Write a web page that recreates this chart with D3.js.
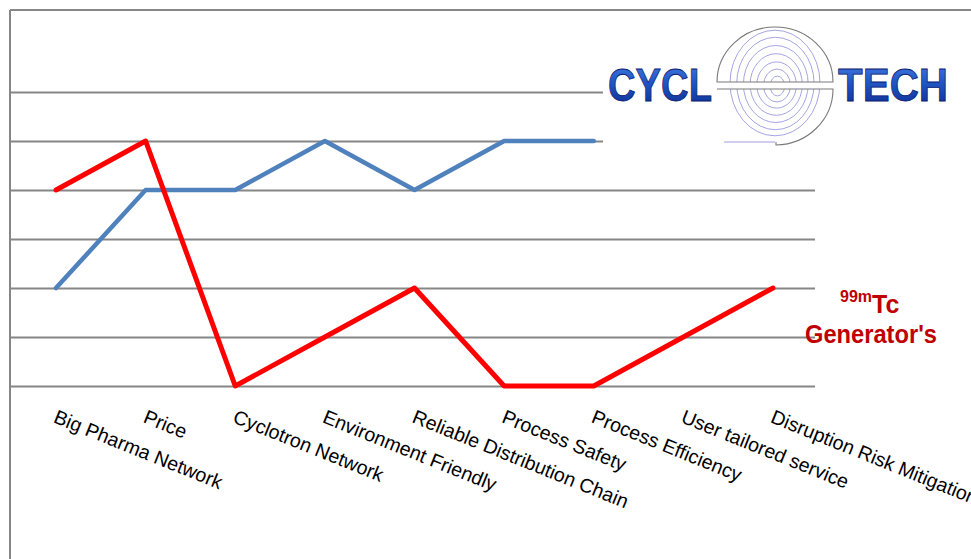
<!DOCTYPE html>
<html>
<head>
<meta charset="utf-8">
<script src="https://cdn.jsdelivr.net/npm/d3@7"></script>
<style>
html,body{margin:0;padding:0;background:#fff;}
svg{display:block;font-family:"Liberation Sans",Arial,sans-serif;}
</style>
</head>
<body>
<svg id="chart" width="971" height="559"></svg>
<script>
const categories = ["Big Pharma Network","Price","Cyclotron Network","Environment Friendly",
  "Reliable Distribution Chain","Process Safety","Process Efficiency","User tailored service",
  "Disruption Risk Mitigation"];
const cyclotechValues = [2,4,4,5,4,5,5];
const generatorValues = [4,5,0,1,2,0,0,1,2];
const gridValues = [0,1,2,3,4,5,6];

const svg = d3.select("#chart");
const x = d3.scalePoint().domain(categories).range([56,773]);
const y = d3.scaleLinear().domain([0,6]).range([386,92]);

// plot border (left + top)
svg.append("line").attr("x1",10).attr("x2",10).attr("y1",10).attr("y2",559)
  .attr("stroke","#868686").attr("stroke-width",2);
svg.append("line").attr("x1",10).attr("x2",971).attr("y1",10).attr("y2",10)
  .attr("stroke","#868686").attr("stroke-width",2);

// gridlines via axis
const grid = svg.append("g").attr("transform","translate(10,0)")
  .call(d3.axisLeft(y).tickValues(gridValues).tickSize(-805).tickFormat(""));
grid.select(".domain").remove();
grid.selectAll(".tick line").attr("stroke","#868686").attr("stroke-width",2);

// category labels
const xa = svg.append("g").attr("transform","translate(0,386)")
  .call(d3.axisBottom(x).tickSize(0).tickPadding(0));
xa.select(".domain").remove();
xa.selectAll(".tick text")
  .attr("font-family","'Liberation Sans',Arial,sans-serif")
  .attr("font-size",19.6).attr("fill","#000")
  .attr("text-anchor","start").attr("dy",0).attr("y",0)
  .attr("transform","translate(-4,36) rotate(22)");

// lines
const line = d3.line().x((d,i)=>x(categories[i])).y(d=>y(d));
svg.append("path").datum(cyclotechValues).attr("d",line)
  .attr("fill","none").attr("stroke","#4f81bd").attr("stroke-width",4.5)
  .attr("stroke-linejoin","round").attr("stroke-linecap","round");
svg.append("path").datum(generatorValues).attr("d",line)
  .attr("fill","none").attr("stroke","#ff0000").attr("stroke-width",5)
  .attr("stroke-linejoin","round").attr("stroke-linecap","round");

// logo
const logo = svg.append("g");
logo.append("rect").attr("x",603).attr("y",14).attr("width",360).attr("height",138).attr("fill","#fff");
const defs = svg.append("defs");
const grad = defs.append("linearGradient").attr("id","lg").attr("x1",0).attr("x2",0).attr("y1",0).attr("y2",1);
grad.append("stop").attr("offset","0%").attr("stop-color","#4a82e6");
grad.append("stop").attr("offset","45%").attr("stop-color","#2256c6");
grad.append("stop").attr("offset","100%").attr("stop-color","#0c2a8c");
["CYCL","TECH"].forEach((t,i)=>{
  logo.append("text").attr("x",i?838:608).attr("y",101).text(t)
    .attr("font-family","'Liberation Sans',Arial,sans-serif").attr("font-weight","bold")
    .attr("font-size",47).attr("textLength",i?110:104).attr("lengthAdjust","spacingAndGlyphs")
    .attr("fill","url(#lg)").attr("stroke","#0a2070").attr("stroke-width",0.8);
});
const cx=775, cy=86, R=58;
// spiral-like rings
const rings = [[50,48],[43,42],[36,35],[29,28],[22,21],[15,15],[8,9]];
rings.forEach((r,i)=>{
  logo.append("ellipse").attr("cx",cx+ i*0.4).attr("cy",cy-3+ i*0.5).attr("rx",r[0]*0.9).attr("ry",r[1]*1.1)
    .attr("fill","none").attr("stroke","#9a9ade").attr("stroke-width",0.9);
});
// clear band and split circle
logo.append("rect").attr("x",cx-R).attr("y",82).attr("width",2*R).attr("height",7).attr("fill","#fff");
logo.append("path").attr("d",`M${cx-R},82 A${R},${R-3} 0 0 1 ${cx+R},82 Z`)
  .attr("fill","none").attr("stroke","#7a7a7a").attr("stroke-width",1.1);
logo.append("path").attr("d",`M${cx-R},89 L${cx+R},89 A${R},${R-2} 0 0 1 ${cx+1},145 L${cx+1},142`)
  .attr("fill","none").attr("stroke","#7a7a7a").attr("stroke-width",1.1);
logo.append("line").attr("x1",724).attr("x2",cx).attr("y1",142).attr("y2",142)
  .attr("stroke","#9c9cdc").attr("stroke-width",1);

// annotation
const ann = svg.append("text").attr("fill","#c00000").attr("font-weight","bold")
  .attr("font-family","'Liberation Sans',Arial,sans-serif");
ann.append("tspan").attr("x",840).attr("y",302).attr("font-size",16).text("99m");
ann.append("tspan").attr("y",313).attr("font-size",25).text("Tc");
svg.append("text").attr("x",805).attr("y",343).attr("fill","#c00000").attr("font-weight","bold")
  .attr("font-family","'Liberation Sans',Arial,sans-serif").attr("font-size",25)
  .attr("textLength",132).attr("lengthAdjust","spacingAndGlyphs").text("Generator's");
</script>
</body>
</html>
